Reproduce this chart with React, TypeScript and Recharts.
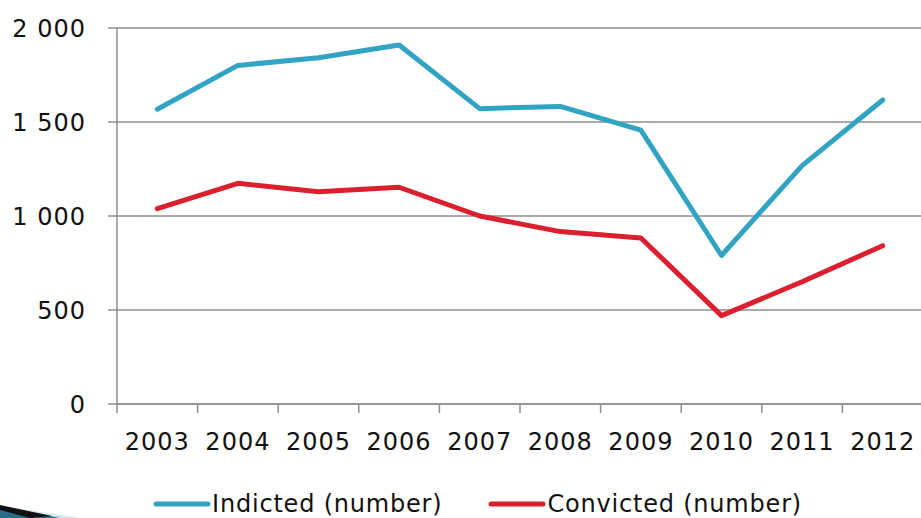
import { LineChart, Line, XAxis, YAxis, CartesianGrid, Legend } from 'recharts';

const years = ['2003', '2004', '2005', '2006', '2007', '2008', '2009', '2010', '2011', '2012'];
const indicted = [1568, 1801, 1842, 1910, 1571, 1583, 1457, 790, 1268, 1617];
const convicted = [1039, 1174, 1129, 1153, 1000, 917, 883, 470, 650, 842];
const yTicks = [0, 500, 1000, 1500, 2000];

const SERIES = [
  { key: 'indicted', name: 'Indicted (number)', color: '#31a4c3' },
  { key: 'convicted', name: 'Convicted (number)', color: '#dc1f2e' },
];

const FONT = '"DejaVu Sans", sans-serif';
const GRID = '#8e8e8e';

const data = years.map((year, i) => ({
  x: i + 0.5,
  year,
  indicted: indicted[i],
  convicted: convicted[i],
}));

const boundaryTicks = years.map((_, i) => i).concat(years.length);
const centerTicks = years.map((_, i) => i + 0.5);

// thousands separated by a space, like "2 000"
const formatY = (v: number) => String(v).replace(/\B(?=(\d{3})+(?!\d))/g, ' ');

const LegendContent = () => (
  <div
    style={{
      display: 'flex',
      height: 48,
      paddingLeft: 153,
      fontFamily: FONT,
      fontSize: 24,
      letterSpacing: 0.8,
      color: '#111',
      lineHeight: '24px',
    }}
  >
    {SERIES.map((s, i) => (
      <div key={s.key} style={{ display: 'flex', alignItems: 'center', height: 24, marginRight: i === 0 ? 46 : 0 }}>
        <svg width={58} height={10} style={{ marginRight: 1 }}>
          <line x1={3} y1={5} x2={55} y2={5} stroke={s.color} strokeWidth={5} strokeLinecap="round" />
        </svg>
        <span>{s.name}</span>
      </div>
    ))}
  </div>
);

export default function App() {
  return (
    <div style={{ position: 'fixed', left: 0, top: 0, width: 921, height: 518, overflow: 'hidden', background: '#fff' }}>
      <LineChart width={923} height={540} data={data} margin={{ top: 28, right: 0, bottom: 0, left: 0 }}>
        <CartesianGrid vertical={false} stroke={GRID} strokeWidth={1.5} />
        <XAxis
          type="number"
          dataKey="x"
          domain={[0, years.length]}
          ticks={boundaryTicks}
          tickFormatter={() => ''}
          height={1}
          tickSize={9}
          stroke={GRID}
          strokeWidth={1.5}
          interval={0}
        />
        <XAxis
          xAxisId="labels"
          type="number"
          dataKey="x"
          domain={[0, years.length]}
          ticks={centerTicks}
          tickFormatter={(v: number) => years[Math.floor(v)]}
          height={87}
          tickSize={0}
          tickMargin={28}
          axisLine={false}
          tickLine={false}
          interval={0}
          tick={{ fill: '#111', fontSize: 24, fontFamily: FONT, letterSpacing: 1 }}
        />
        <YAxis
          type="number"
          domain={[0, 2000]}
          ticks={yTicks}
          tickFormatter={formatY}
          width={117}
          tickSize={9}
          tickMargin={22}
          stroke={GRID}
          strokeWidth={1.5}
          interval={0}
          tick={{ fill: '#111', fontSize: 24, fontFamily: FONT, letterSpacing: 1 }}
        />
        <Legend verticalAlign="bottom" content={<LegendContent />} wrapperStyle={{ left: 0, width: 923 }} />
        {SERIES.map((s) => (
          <Line
            key={s.key}
            dataKey={s.key}
            name={s.name}
            stroke={s.color}
            strokeWidth={5}
            strokeLinecap="round"
            strokeLinejoin="round"
            dot={false}
            activeDot={false}
            isAnimationActive={false}
          />
        ))}
      </LineChart>
      <svg width={90} height={20} style={{ position: 'absolute', left: 0, top: 500 }}>
        <polygon points="0,18 80,18 0,6" fill="#cfe6ef" />
        <polygon points="0,6 60,18 0,18" fill="#2a6f8a" />
        <polygon points="0,5 52,16 30,18 0,10" fill="#111" />
      </svg>
    </div>
  );
}
